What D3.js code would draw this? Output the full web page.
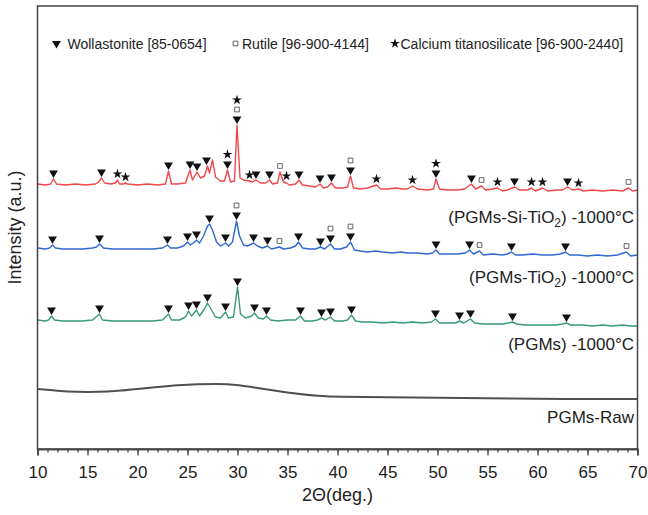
<!DOCTYPE html>
<html><head><meta charset="utf-8">
<script src="https://cdn.jsdelivr.net/npm/d3@7"></script>
<style>body{margin:0;background:#fff}svg{display:block;font-family:"Liberation Sans",Arial,Helvetica,sans-serif}</style>
</head><body><div id="chart"></div>
<script>
// ---- data (2θ in degrees, intensity in arbitrary units incl. stacking offset) ----
const xTicksMajor = [10,15,20,25,30,35,40,45,50,55,60,65,70];
const seriesNames = ["(PGMs-Si-TiO2) -1000°C","(PGMs-TiO2) -1000°C","(PGMs) -1000°C","PGMs-Raw"];
const seriesColors = ["#f0474c","#2f68d2","#3a9a73","#505050"];
const labelLevels = [226,166,99,26];

const siTiO2 = [[10.0,265],[10.8,264],[11.3,265],[11.6,270],[11.9,265],[12.8,264],[13.8,265],[14.8,264],[15.8,265],[16.1,267],[16.4,271],[16.7,266],[17.3,265],[17.8,266],[18.0,269],[18.2,265],[18.6,265],[18.8,266],[19.0,265],[20.0,264],[21.0,265],[22.0,264],[22.8,265],[23.1,278],[23.4,265],[24.0,265],[24.8,266],[25.25,279],[25.5,269],[25.95,277],[26.3,271],[26.7,273],[27.0,283],[27.2,276],[27.5,289],[27.8,272],[28.3,268],[28.7,268],[29.0,279],[29.3,267],[29.7,268],[29.95,324],[30.25,271],[30.6,269],[31.2,268],[31.5,267],[31.85,269],[32.3,266],[32.8,266],[33.2,269],[33.5,265],[34.0,266],[34.25,277],[34.6,267],[34.9,266],[35.2,264],[35.8,265],[36.15,269],[36.5,264],[37.2,263],[37.8,262],[38.25,265],[38.6,261],[39.0,262],[39.4,266],[39.8,261],[40.5,261],[41.0,262],[41.3,273],[41.6,261],[42.3,260],[43.0,261],[43.9,264],[44.3,260],[45.0,260],[45.8,261],[46.5,260],[47.0,260],[47.5,263],[48.0,260],[49.0,259],[49.6,260],[49.85,270],[50.2,260],[51.0,259],[52.0,259],[52.7,260],[53.4,265],[53.8,260],[54.4,263],[54.8,259],[55.5,260],[56.0,261],[56.5,258],[57.0,259],[57.7,262],[58.2,259],[59.0,259],[59.4,261],[59.8,258],[60.5,261],[61.0,258],[62.0,259],[62.5,259],[63.0,262],[63.5,259],[64.1,260],[64.6,258],[65.5,259],[66.5,258],[67.5,259],[68.5,258],[69.1,261],[69.5,258],[70.0,259]];

const tiO2 = [[10.0,201],[10.8,200],[11.2,201],[11.5,204],[11.8,201],[12.5,200],[13.5,200],[14.5,200],[15.5,201],[15.9,202],[16.2,205],[16.6,201],[17.5,200],[18.5,200],[19.5,200],[20.5,200],[21.5,200],[22.5,201],[23.0,204],[23.3,201],[24.0,201],[24.6,203],[25.0,207],[25.3,204],[25.6,206],[25.9,209],[26.2,206],[26.6,213],[27.0,223],[27.2,225],[27.5,219],[27.9,207],[28.3,203],[28.8,206],[29.1,203],[29.5,207],[29.9,228],[30.2,213],[30.6,204],[31.0,203],[31.6,206],[32.0,203],[32.5,201],[33.0,203],[33.4,200],[33.8,201],[34.2,202],[34.6,200],[35.3,201],[35.8,203],[36.1,207],[36.5,201],[37.2,200],[37.8,200],[38.3,202],[38.7,200],[39.3,205],[39.7,200],[40.3,200],[40.9,202],[41.3,207],[41.7,199],[42.3,198],[43.0,197],[43.8,198],[44.5,197],[45.5,196],[46.3,197],[47.0,196],[48.0,196],[49.0,195],[49.5,196],[49.85,199],[50.2,195],[51.0,195],[52.0,195],[52.8,196],[53.2,199],[53.6,195],[54.2,198],[54.6,194],[55.5,195],[56.5,194],[57.0,195],[57.4,197],[57.8,194],[58.5,194],[59.5,195],[60.5,194],[61.5,194],[62.3,195],[62.8,197],[63.2,194],[64.0,194],[65.0,193],[66.0,194],[67.0,193],[68.0,194],[68.9,197],[69.3,193],[70.0,194]];

const pgms = [[10.0,129],[10.8,128],[11.1,129],[11.4,133],[11.7,129],[12.5,128],[13.5,128],[14.5,128],[15.5,129],[16.2,135],[16.5,129],[17.5,128],[18.5,128],[19.5,128],[20.5,128],[21.5,128],[22.5,129],[23.1,135],[23.4,129],[24.2,129],[24.8,132],[25.1,138],[25.4,133],[25.9,139],[26.2,133],[26.7,140],[27.0,146],[27.3,141],[27.8,132],[28.3,131],[28.8,137],[29.1,131],[29.6,132],[30.0,162],[30.3,135],[30.8,131],[31.4,133],[31.7,136],[32.1,131],[32.6,130],[32.9,133],[33.3,129],[34.0,128],[35.0,129],[35.8,129],[36.3,133],[36.7,128],[37.5,128],[38.0,129],[38.4,131],[38.8,129],[39.3,132],[39.7,128],[40.5,128],[41.0,129],[41.4,134],[41.8,128],[42.5,127],[43.5,127],[44.5,126],[45.5,127],[46.5,126],[47.5,127],[48.5,126],[49.4,127],[49.8,130],[50.2,126],[51.0,126],[51.8,126],[52.2,128],[52.6,126],[53.3,130],[53.7,126],[54.5,125],[55.5,125],[56.5,125],[57.1,126],[57.5,127],[57.9,125],[58.8,124],[59.8,124],[60.8,124],[61.8,124],[62.5,125],[62.9,126],[63.3,124],[64.5,124],[65.5,123],[66.5,124],[67.5,123],[68.5,124],[69.3,123],[70.0,123]];

const raw = [[10,60],[12,58],[14,57],[16,57],[18,58],[20,60],[22,62],[24,64],[26,65],[28,65],[29,65],[30,64],[32,61],[34,58],[36,55],[38,53],[40,52],[45,52],[50,51],[55,51],[60,50],[65,50],[70,50]];

// phase markers: [2θ, symbols bottom-up]  v = Wollastonite, s = Rutile, * = Calcium titanosilicate
const markersSiTiO2 = [[11.6,"v"],[16.4,"v"],[18.0,"*"],[18.8,"*"],[23.1,"v"],[25.25,"v"],[25.95,"v"],[26.9,"v"],[29.0,"v*"],[29.95,"vs*"],[31.2,"*"],[31.85,"v"],[33.2,"v"],[34.25,"s"],[34.9,"*"],[36.15,"v"],[38.25,"v"],[39.4,"v"],[41.3,"vs"],[43.9,"*"],[47.5,"*"],[49.85,"v*"],[53.4,"v"],[54.4,"s"],[56.0,"*"],[57.7,"v"],[59.4,"*"],[60.5,"*"],[63.0,"v"],[64.1,"*"],[69.1,"s"]];
const markersTiO2 = [[11.5,"v"],[16.2,"v"],[23.0,"v"],[25.0,"v"],[25.9,"v"],[27.2,"v"],[28.8,"v"],[29.9,"vs"],[31.6,"v"],[33.0,"v"],[34.2,"s"],[36.1,"v"],[38.3,"v"],[39.3,"vs"],[41.3,"vs"],[49.85,"v"],[53.2,"v"],[54.2,"s"],[57.4,"v"],[62.8,"v"],[68.9,"s"]];
const markersPgms = [[11.4,"v"],[16.2,"v"],[23.1,"v"],[25.1,"v"],[25.9,"v"],[27.0,"v"],[28.8,"v"],[30.0,"v"],[31.7,"v"],[32.9,"v"],[36.3,"v"],[38.4,"v"],[39.3,"v"],[41.4,"v"],[49.8,"v"],[52.2,"v"],[53.3,"v"],[57.5,"v"],[62.9,"v"]];

const legendItems = [["v","Wollastonite [85-0654]"],["s","Rutile [96-900-4144]"],["*","Calcium titanosilicate [96-900-2440]"]];

// ---- layout ----
const W = 648, H = 515;
const m = {left:37.5, right:10.5, top:6, bottom:66};
const svg = d3.select("#chart").append("svg").attr("width",W).attr("height",H);
svg.append("rect").attr("width",W).attr("height",H).attr("fill","#fff");

const x = d3.scaleLinear().domain([10,70]).range([m.left, W-m.right]);
const y = d3.scaleLinear().domain([0,443]).range([H-m.bottom, m.top]);

const allSeries = [siTiO2, tiO2, pgms, raw];
const allMarkers = [markersSiTiO2, markersTiO2, markersPgms, []];

const line = d3.line().x(d=>x(d[0])).y(d=>y(d[1]));
const smooth = d3.line().x(d=>x(d[0])).y(d=>y(d[1])).curve(d3.curveBasis);

allSeries.forEach((s,i)=>{
  svg.append("path").datum(s)
    .attr("d", i===3 ? smooth : line)
    .attr("fill","none")
    .attr("stroke", seriesColors[i])
    .attr("stroke-width", i===3 ? 2 : 1.4)
    .attr("stroke-linejoin","round");
});

// symbols
const triPath = d3.symbol().type(d3.symbolTriangle).size(34)();
const sqPath = d3.symbol().type(d3.symbolSquare).size(22)();
const starPath = d3.symbol().type(d3.symbolStar).size(30)();
function drawSym(g, t, cx, cy){
  if(t==="v") g.append("path").attr("d",triPath).attr("transform",`translate(${cx},${cy}) rotate(180)`).attr("fill","#111");
  else if(t==="s") g.append("path").attr("d",sqPath).attr("transform",`translate(${cx},${cy})`).attr("fill","#fff").attr("stroke","#555").attr("stroke-width",0.9);
  else g.append("path").attr("d",starPath).attr("transform",`translate(${cx},${cy})`).attr("fill","#111");
}

const mg = svg.append("g");
allMarkers.forEach((mk,i)=>{
  const s = allSeries[i];
  mk.forEach(([t, syms])=>{
    const near = s.filter(p=>Math.abs(p[0]-t)<=0.35);
    const top = d3.max(near, p=>p[1]);
    let cy = y(top) - 6;
    for(const c of syms){ drawSym(mg, c, x(t), cy); cy -= 9.5; }
  });
});

// frame
svg.append("rect").attr("x",m.left).attr("y",m.top)
  .attr("width",W-m.left-m.right).attr("height",H-m.top-m.bottom)
  .attr("fill","none").attr("stroke","#444").attr("stroke-width",1.5);

// x axis
const xAxisG = svg.append("g").attr("transform",`translate(0,${H-m.bottom})`);
xAxisG.call(d3.axisBottom(x).tickValues(d3.range(10,71,1)).tickSize(3.5).tickFormat(""));
xAxisG.append("g").call(d3.axisBottom(x).tickValues(xTicksMajor).tickSize(6.5).tickPadding(10).tickFormat(d3.format("d")));
xAxisG.selectAll(".domain").attr("stroke","#444").attr("stroke-width",1.5);
xAxisG.selectAll(".tick line").attr("stroke","#444").attr("stroke-width",1.3);
xAxisG.selectAll(".tick text").attr("font-size",17).attr("fill","#222").attr("font-family",'"Liberation Sans",Arial,sans-serif');

// axis titles
svg.append("text").attr("x",(m.left+W-m.right)/2).attr("y",501).attr("text-anchor","middle")
  .attr("font-size",18).attr("fill","#222").text("2Θ(deg.)");
svg.append("text").attr("transform",`translate(21,${(m.top+H-m.bottom)/2}) rotate(-90)`)
  .attr("text-anchor","middle").attr("font-size",18).attr("fill","#222").text("Intensity (a.u.)");

// series labels
seriesNames.forEach((n,i)=>{
  const t = svg.append("text").attr("x",634).attr("y",y(labelLevels[i]))
    .attr("text-anchor","end").attr("font-size",17).attr("fill","#222");
  const parts = n.split("TiO2");
  if(parts.length>1){
    t.append("tspan").text(parts[0]+"TiO");
    t.append("tspan").attr("font-size",12).attr("dy",4).text("2");
    t.append("tspan").attr("dy",-4).text(parts[1]);
  } else t.text(n);
});

// legend
const legX = [56.5, 235.5, 395];
const legTX = [67.5, 242, 400.5];
legendItems.forEach(([sym,label],i)=>{
  drawSym(svg, sym, legX[i], 43.5);
  svg.append("text").attr("x",legTX[i]).attr("y",48.5).attr("font-size",14).attr("fill","#222").text(label);
});
</script>
</body></html>
